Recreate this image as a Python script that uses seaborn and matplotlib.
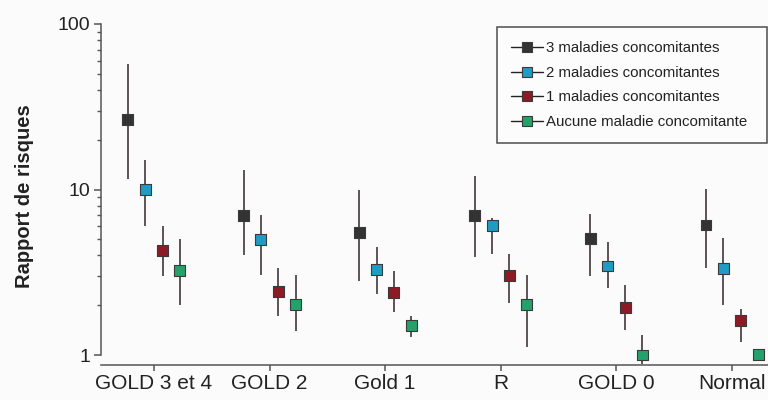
# %%
# ===== Libraries =====
import numpy as np
import pandas as pd
import matplotlib
matplotlib.use('Agg')
import matplotlib.pyplot as plt
from matplotlib.lines import Line2D
import seaborn as sns

sns.set_theme(style='ticks')
plt.rcParams['font.family'] = ['Liberation Sans', 'DejaVu Sans']

# %%
# ===== Data =====
groups = ['GOLD 3 et 4', 'GOLD 2', 'Gold 1', 'R', 'GOLD 0', 'Normal']
series = ['3 maladies concomitantes', '2 maladies concomitantes',
          '1 maladies concomitantes', 'Aucune maladie concomitante']

hr_3 = [26.5, 7.0, 5.5, 7.0, 5.05, 6.1]
lo_3 = [11.6, 4.0, 2.8, 3.9, 3.0, 3.35]
hi_3 = [57.0, 13.2, 10.0, 12.0, 7.1, 10.1]

hr_2 = [10.0, 5.0, 3.27, 6.05, 3.45, 3.33]
lo_2 = [6.0, 3.03, 2.33, 4.05, 2.55, 2.0]
hi_2 = [15.0, 7.05, 4.5, 6.75, 4.85, 5.1]

hr_1 = [4.3, 2.41, 2.4, 3.03, 1.94, 1.62]
lo_1 = [3.0, 1.72, 1.83, 2.05, 1.41, 1.2]
hi_1 = [6.0, 3.37, 3.22, 4.05, 2.65, 1.89]

hr_0 = [3.22, 2.01, 1.5, 2.01, 1.0, 1.01]
lo_0 = [2.0, 1.4, 1.29, 1.11, 0.88, 0.97]
hi_0 = [5.05, 3.03, 1.72, 3.05, 1.32, 1.05]

colors = ['#333333', '#1f9cc6', '#8c1b25', '#23a26b']
offsets = [-0.225, -0.075, 0.075, 0.225]

# ===== Long table =====
frames = []
for name, hr, lo, hi, off in zip(series,
                                 [hr_3, hr_2, hr_1, hr_0],
                                 [lo_3, lo_2, lo_1, lo_0],
                                 [hi_3, hi_2, hi_1, hi_0],
                                 offsets):
    frames.append(pd.DataFrame({'groupe': groups, 'serie': name,
                                'x': np.arange(len(groups)) + off,
                                'hr': hr, 'lo': lo, 'hi': hi}))
df = pd.concat(frames, ignore_index=True)

# %%
# ===== Plot =====
fig = plt.figure(figsize=(7.68, 4.0), dpi=100)
fig.patch.set_facecolor('#fbfbfb')
ax = fig.add_axes([0.1315, 0.1125, 0.8685, 0.8275])
ax.set_facecolor('#fbfbfb')

ax.vlines(df['x'], df['lo'], df['hi'], color='#5a5454', lw=1.4,
          zorder=2, clip_on=False)
sns.scatterplot(data=df, x='x', y='hr', hue='serie', palette=colors,
                marker='s', s=62, edgecolor='#3a3a3a', linewidth=0.8,
                legend=False, zorder=3, clip_on=False, ax=ax)

ax.set_yscale('log')
ax.set_ylim(1, 100)
ax.set_xlim(-0.458, 5.311)
ax.set_yticks([1, 10, 100])
ax.set_yticklabels(['1', '10', '100'])
ax.set_xticks(range(len(groups)))
ax.set_xticklabels(groups)
ax.set_xlabel('')
ax.set_ylabel('Rapport de risques', fontsize=14.5, fontweight='bold',
              color='#222222')
ax.yaxis.set_label_coords(-0.1, 0.48)

sns.despine(ax=ax)
ax.spines['bottom'].set_position(('outward', 7.5))
for sp in ['left', 'bottom']:
    ax.spines[sp].set_color('#555555')
    ax.spines[sp].set_linewidth(1.1)

ax.tick_params(axis='y', which='major', length=5, width=1.1,
               color='#555555', labelsize=14, labelcolor='#222222', pad=3)
ax.tick_params(axis='y', which='minor', length=3, width=1.0,
               color='#555555')
ax.tick_params(axis='x', length=4, width=1.1, color='#555555',
               labelsize=15, labelcolor='#222222', pad=2)

# ===== Legend =====
handles = [Line2D([0], [0], color='#222222', lw=1.0, marker='s',
                  markersize=6.5, markerfacecolor=c,
                  markeredgecolor='#3a3a3a', markeredgewidth=0.8)
           for c in colors]
leg = fig.legend(handles, series, loc='upper left', mode='expand',
                 bbox_to_anchor=(0.647, 0.5, 0.352, 0.4325), fontsize=10.8,
                 frameon=True, fancybox=False, handlelength=2.1,
                 handletextpad=0.2, labelspacing=0.7,
                 borderpad=0.95, borderaxespad=0)
leg.get_frame().set_edgecolor('#222222')
leg.get_frame().set_linewidth(1.1)
leg.get_frame().set_facecolor('#fdfdfd')
for t in leg.get_texts():
    t.set_color('#222222')

fig.savefig('out.png', dpi=100, facecolor=fig.get_facecolor())
